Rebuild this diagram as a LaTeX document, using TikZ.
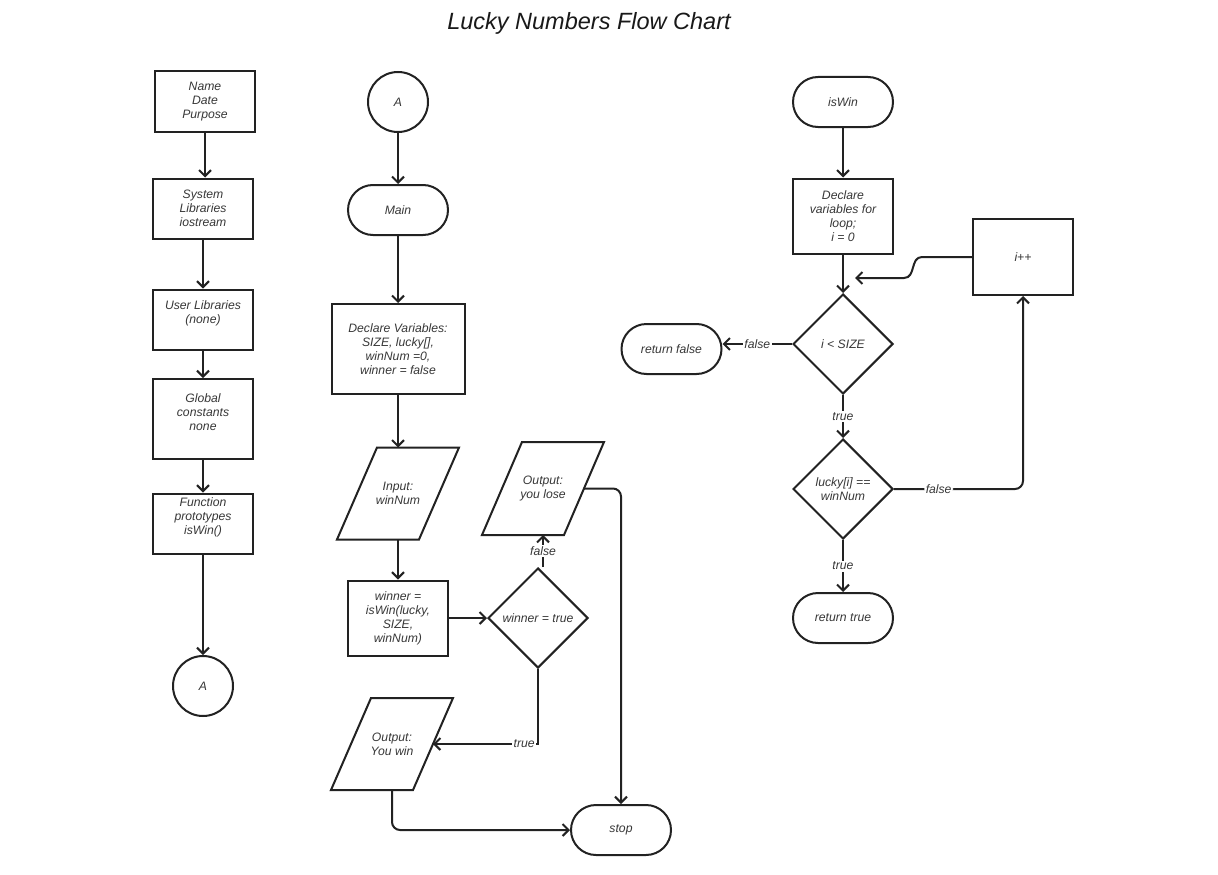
\documentclass[tikz,border=0pt]{standalone}
\usepackage{fontspec}
\setmainfont{Liberation Sans}
\usetikzlibrary{shapes.geometric,arrows.meta,calc}
\definecolor{ln}{HTML}{222222}
\definecolor{tx}{HTML}{383838}
\begin{document}
\begin{tikzpicture}[x=1pt,y=-1pt,
 base/.style={draw=ln,line width=2pt,text=tx,font=\fontsize{12.2}{14}\selectfont\itshape,align=center,inner sep=0pt},
 box/.style={base,rectangle,minimum width=100pt},
 term/.style={base,rectangle,rounded corners=25pt,minimum width=100pt,minimum height=50pt},
 conn/.style={base,circle,minimum size=60pt},
 dec/.style={base,diamond,minimum width=100pt,minimum height=100pt},
 io/.style={base,draw=none,rectangle,minimum width=80pt,minimum height=90pt,
   append after command={\pgfextra{\draw[draw=ln,line width=2pt]
     ($(\tikzlastnode.north west)+(20,0)$) -- ($(\tikzlastnode.north east)+(20,0)$) --
     ($(\tikzlastnode.south east)+(-20,0)$) -- ($(\tikzlastnode.south west)+(-20,0)$) -- cycle;}}},
 arr/.style={draw=ln,line width=2pt,-{Straight Barb[length=6pt,width=12pt]}},
 lbl/.style={fill=white,text=tx,font=\fontsize{12.2}{14}\selectfont\itshape,inner sep=1.5pt}
]
\useasboundingbox[fill=white] (0,0) rectangle (1218,875);
\node[font=\fontsize{23.5}{28}\selectfont\itshape,text=black!90] (title) at (589,23) {Lucky Numbers Flow Chart};

% left column
\node[box,minimum height=60pt] (hdr) at (205,101.5) {Name\\Date\\Purpose};
\node[box,minimum height=60pt] (sys) at (203,208.5) {System\\Libraries\\iostream};
\node[box,minimum height=60pt] (usr) at (203,319.5) {User Libraries\\(none)\\~};
\node[box,minimum height=80pt] (glob) at (203,419) {Global\\constants\\none\\~};
\node[box,minimum height=60pt] (proto) at (203,523.5) {Function\\prototypes\\isWin()\\~};
\node[conn] (A1) at (203,686) {A};
\draw[arr] (hdr.south) -- (hdr.south |- sys.north);
\draw[arr] (sys) -- (usr);
\draw[arr] (usr) -- (glob);
\draw[arr] (glob) -- (proto);
\draw[arr] (proto) -- (A1);

% middle column
\node[conn] (A2) at (398,102) {A};
\node[term] (main) at (398,210) {Main};
\node[box,minimum width=133pt,minimum height=90pt] (decl) at (398,349) {Declare Variables:\\SIZE, lucky[],\\winNum =0,\\winner = false};
\node[io] (inp) at (398,493.5) {Input:\\winNum};
\node[box,minimum height=75pt] (call) at (398,618) {winner =\\isWin(lucky,\\SIZE,\\winNum)};
\node[dec] (wt) at (538,618) {winner = true};
\node[io,minimum height=91pt] (lose) at (543,488.5) {Output:\\you lose};
\node[io] (win) at (392,744) {Output:\\You win};
\node[term] (stop) at (621,830) {stop};
\coordinate (wtf) at ($(wt.north)+(5,0)$);
\draw[arr] (A2) -- (main);
\draw[arr] (main) -- (decl);
\draw[arr] (decl) -- (inp);
\draw[arr] (inp) -- (call);
\draw[arr] (call) -- (wt);
\draw[arr] (wtf) -- (wtf |- lose.south) node[lbl,midway]{false};
\draw[arr,rounded corners=8pt] (lose.east) -| (stop.north);
\draw[arr] (wt.south) |- (win.east) node[lbl,pos=0.566]{true};
\draw[arr,rounded corners=8pt] (win.south) |- (stop.west);

% right column
\node[term] (iswin) at (843,102) {isWin};
\node[box,minimum height=75pt] (ldecl) at (843,216) {Declare\\variables for\\loop;\\i = 0};
\node[dec] (cond) at (843,344) {i < SIZE};
\node[dec] (luck) at (843,489) {lucky[i] ==\\winNum};
\node[term] (rtrue) at (843,618) {return true};
\node[term] (rfalse) at (671.5,349) {return false};
\node[box,minimum height=76pt] (inc) at (1023,257) {i++};
\coordinate (back) at (855,278);
\draw[arr] (iswin) -- (ldecl);
\draw[arr] (ldecl) -- (cond);
\draw[arr] (cond) -- (luck) node[lbl,midway]{true};
\draw[arr] (luck) -- (rtrue) node[lbl,midway]{true};
\draw[arr] (cond.west) -- (cond.west -| rfalse.east) node[lbl,midway]{false};
\draw[arr,rounded corners=8pt] (luck.east) -| (inc.south) node[lbl,pos=0.173]{false};
\draw[arr] (inc.west) -- (922,257) .. controls (910,257) and (916,278) .. (904,278) -- (back);
\end{tikzpicture}
\end{document}
